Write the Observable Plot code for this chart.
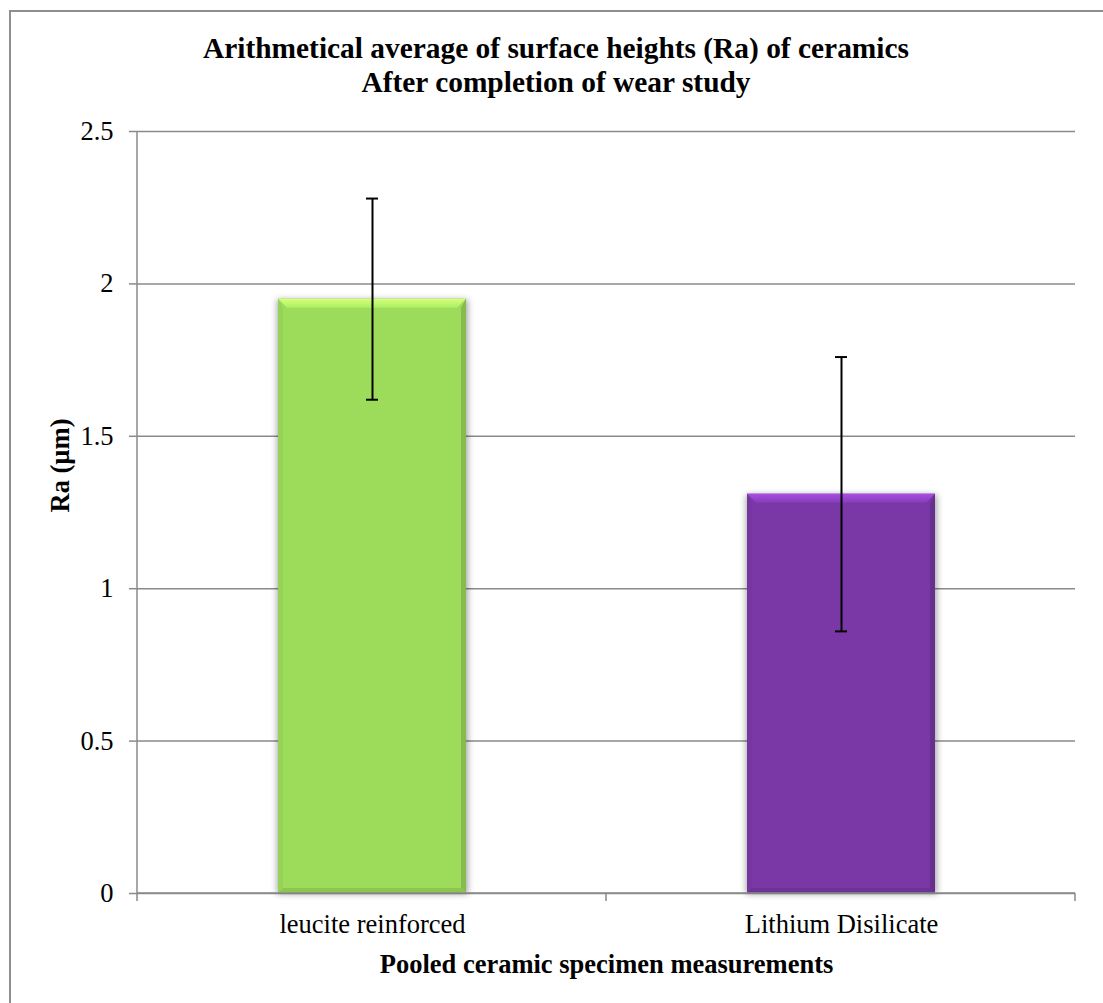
<!DOCTYPE html>
<html>
<head>
<meta charset="utf-8">
<script src="https://cdn.jsdelivr.net/npm/d3@7"></script>
<script src="https://cdn.jsdelivr.net/npm/@observablehq/plot@0.6"></script>
<style>
  html, body { margin: 0; padding: 0; background: #fff; }
  #wrap { position: relative; width: 1103px; height: 1003px; overflow: hidden; }
  #border { position: absolute; left: 9px; top: 10px; width: 1200px; height: 1100px;
            border: 2px solid #8f8f8f; box-sizing: border-box; }
  #title { position: absolute; left: 0; top: 31px; width: 1112px; text-align: center;
           font-family: 'Liberation Serif', 'Times New Roman', serif; font-weight: bold;
           font-size: 29.4px; line-height: 34px; color: #000; }
  #chart { position: absolute; left: 0; top: 0; }
</style>
</head>
<body>
<div id="wrap">
  <div id="border"></div>
  <div id="title">Arithmetical average of surface heights (Ra) of ceramics<br>After completion of wear study</div>
  <div id="chart"></div>
</div>
<script>
// Ceramic groups and their mean surface roughness with standard deviation
const materials = ["leucite reinforced", "Lithium Disilicate"];
const meanRa = [1.95, 1.31];
const sdRa = [0.33, 0.45];
const barColors = ["#9ddb5a", "#7a38a7"];
const yTicks = [0, 0.5, 1, 1.5, 2, 2.5];
const yTickLabels = ["0", "0.5", "1", "1.5", "2", "2.5"];

const table = materials.map((m, i) => ({
  material: m,
  mean: meanRa[i],
  lo: meanRa[i] - sdRa[i],
  hi: meanRa[i] + sdRa[i],
  color: barColors[i]
}));

const gridColor = "#8a8a8a";

// Soft shadow drawn beneath each bar
function barShadow(index, scales) {
  const {x, y} = scales;
  const g = d3.create("svg:g");
  const f = g.append("defs").append("filter")
    .attr("id", "bar-shadow").attr("x", "-10%").attr("y", "-10%")
    .attr("width", "120%").attr("height", "120%");
  f.append("feGaussianBlur").attr("stdDeviation", 3);
  for (const d of table) {
    g.append("rect")
      .attr("x", x(d.material) - 1)
      .attr("y", y(d.mean) + 1)
      .attr("width", x.bandwidth() + 3)
      .attr("height", y(0) - y(d.mean))
      .attr("fill", "#000")
      .attr("fill-opacity", 0.35)
      .attr("filter", "url(#bar-shadow)");
  }
  return g.node();
}

// Bevelled edges on top of each bar: light top, darker sides and base
function barBevel(index, scales) {
  const {x, y} = scales;
  const g = d3.create("svg:g");
  const bt = 9, bs = 5;
  for (const d of table) {
    const i = materials.indexOf(d.material);
    const x0 = x(d.material), x1 = x0 + x.bandwidth();
    const y0 = y(d.mean), y1 = y(0);
    const base = d3.color(d.color);
    const poly = (pts, fill) => g.append("polygon")
      .attr("points", pts.map(p => p.join(",")).join(" "))
      .attr("fill", fill);
    const grad = g.append("defs").append("linearGradient")
      .attr("id", "top-" + i)
      .attr("x1", 0).attr("y1", 0).attr("x2", 0).attr("y2", 1);
    grad.append("stop").attr("offset", "0%").attr("stop-color", base.brighter(0.9).formatHex());
    grad.append("stop").attr("offset", "100%").attr("stop-color", base.brighter(0.25).formatHex());
    poly([[x0, y0], [x1, y0], [x1 - bt, y0 + bt], [x0 + bt, y0 + bt]], "url(#top-" + i + ")");
    poly([[x1, y0], [x1, y1], [x1 - bs, y1 - bs], [x1 - bs, y0 + bt]], base.darker(0.45).formatHex());
    poly([[x0, y1], [x1, y1], [x1 - bs, y1 - bs], [x0 + bs, y1 - bs]], base.darker(0.3).formatHex());
    poly([[x0, y0], [x0 + bs, y0 + bt], [x0 + bs, y1 - bs], [x0, y1]], base.darker(0.12).formatHex());
  }
  return g.node();
}

// Vertical axis line and category boundary ticks on the base line
function axisFrame(index, scales) {
  const {x, y} = scales;
  const g = d3.create("svg:g")
    .attr("stroke", gridColor).attr("stroke-width", 1.5).attr("fill", "none");
  const [r0, r1] = x.range();
  const [yb, yt] = y.range();
  g.append("line").attr("x1", r0).attr("x2", r0).attr("y1", yb + 0.75).attr("y2", yt);
  g.append("line").attr("x1", r0).attr("x2", r1).attr("y1", y(0)).attr("y2", y(0));
  const n = materials.length;
  for (let k = 0; k <= n; ++k) {
    const xb = r0 + (r1 - r0) * k / n;
    g.append("line").attr("x1", xb).attr("x2", xb).attr("y1", y(0)).attr("y2", y(0) + 8);
  }
  return g.node();
}

const chart = Plot.plot({
  width: 1103,
  height: 1003,
  marginTop: 131,
  marginBottom: 110,
  marginLeft: 137,
  marginRight: 28,
  style: {
    fontFamily: "'Liberation Serif', 'Times New Roman', serif",
    fontSize: "26.5px",
    color: "#000",
    background: "transparent",
    overflow: "visible"
  },
  x: {domain: materials, paddingInner: 0.6, paddingOuter: 0.3, label: null},
  y: {domain: [0, 2.5], label: null},
  color: {type: "identity"},
  marks: [
    Plot.gridY(yTicks, {stroke: gridColor, strokeOpacity: 1, strokeWidth: 1.5}),
    barShadow,
    Plot.barY(table, {x: "material", y: "mean", fill: "color"}),
    barBevel,
    axisFrame,
    Plot.axisY(yTicks, {
      tickSize: 8, tickPadding: 16, stroke: gridColor, strokeWidth: 1.5, fill: "#000",
      tickFormat: d => yTickLabels[yTicks.indexOf(d)], label: null
    }),
    Plot.axisX({tickSize: 0, tickPadding: 20.5, fill: "#000", label: null}),
    Plot.ruleX(table, {x: "material", y1: "lo", y2: "hi", stroke: "#000", strokeWidth: 2}),
    Plot.tickY(table, {x: "material", y: "lo", stroke: "#000", strokeWidth: 2, insetLeft: 88, insetRight: 88}),
    Plot.tickY(table, {x: "material", y: "hi", stroke: "#000", strokeWidth: 2, insetLeft: 88, insetRight: 88}),
    Plot.text(["Pooled ceramic specimen measurements"], {
      text: d => d, frameAnchor: "bottom", lineAnchor: "bottom", dy: 79, fontWeight: "bold", fill: "#000"
    }),
    Plot.text(["Ra (µm)"], {
      text: d => d, frameAnchor: "left", rotate: -90, lineAnchor: "bottom", dx: -69, fontWeight: "bold", fill: "#000"
    })
  ]
});

document.getElementById("chart").appendChild(chart);
</script>
</body>
</html>
